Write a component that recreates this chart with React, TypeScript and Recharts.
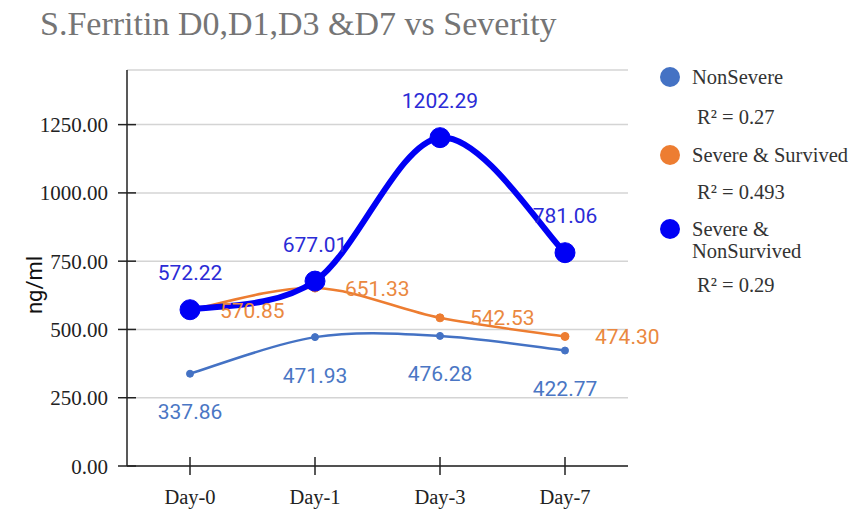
import React from 'react';
import { LineChart, Line, XAxis, YAxis, CartesianGrid, LabelList } from 'recharts';

const days = ['Day-0', 'Day-1', 'Day-3', 'Day-7'];
const nonSevere = [337.86, 471.93, 476.28, 422.77];
const severeSurvived = [570.85, 651.33, 542.53, 474.3];
const severeNonSurvived = [572.22, 677.01, 1202.29, 781.06];
const yTicks = [0, 250, 500, 750, 1000, 1250];
const seriesNames = ['NonSevere', 'Severe & Survived', 'Severe & NonSurvived'];
const rSquared = ['0.27', '0.493', '0.29'];
const title = 'S.Ferritin D0,D1,D3 &D7 vs Severity';
const yLabel = 'ng/ml';

const COLORS = ['#4472c4', '#ed7d31', '#0000f5'];
const LABEL_COLORS = ['#4a76c4', '#ea8840', '#2b2bd6'];

const data = days.map((d, i) => ({
  day: d,
  ns: nonSevere[i],
  ss: severeSurvived[i],
  snv: severeNonSurvived[i],
}));

const W = 849;
const H = 510;
const PL = 127;
const PR = 628;
const PT = 70;
const PB = 466;

const SERIF = '"Liberation Serif", "Times New Roman", serif';
const SANS = 'Roboto, "Liberation Sans", Arial, sans-serif';

// Cardinal / Catmull-Rom style smoothing curve
function smoothCurve(context: any) {
  let pts: number[][] = [];
  return {
    areaStart() {},
    areaEnd() {},
    lineStart() {
      pts = [];
    },
    lineEnd() {
      const n = pts.length;
      if (!n) return;
      context.moveTo(pts[0][0], pts[0][1]);
      if (n === 2) {
        context.lineTo(pts[1][0], pts[1][1]);
        return;
      }
      const k = 1 / 6;
      for (let i = 0; i < n - 1; i++) {
        const p0 = pts[i - 1] || pts[i];
        const p1 = pts[i];
        const p2 = pts[i + 1];
        const p3 = pts[i + 2] || pts[i + 1];
        context.bezierCurveTo(
          p1[0] + k * (p2[0] - p0[0]),
          p1[1] + k * (p2[1] - p0[1]),
          p2[0] - k * (p3[0] - p1[0]),
          p2[1] - k * (p3[1] - p1[1]),
          p2[0],
          p2[1]
        );
      }
    },
    point(x: number, y: number) {
      pts.push([+x, +y]);
    },
  };
}

const YTick = (props: any) => {
  const { y, payload } = props;
  return (
    <g>
      <line x1={PL - 9} x2={PL + 9} y1={y} y2={y} stroke="#222" strokeWidth={1.5} />
      <text x={108} y={y} dy="0.36em" textAnchor="end" fontFamily={SERIF} fontSize={21} fill="#222">
        {Number(payload.value).toFixed(2)}
      </text>
    </g>
  );
};

const XTick = (props: any) => {
  const { x, payload } = props;
  return (
    <g>
      <line x1={x} x2={x} y1={PB - 9} y2={PB + 9} stroke="#222" strokeWidth={1.5} />
      <text x={x} y={504} textAnchor="middle" fontFamily={SERIF} fontSize={20.5} fill="#222">
        {payload.value}
      </text>
    </g>
  );
};

const makeLabel = (dx: number, dy: number, anchor: string, color: string) => (p: any) => {
  const x = p.x ?? p.viewBox?.x;
  const y = p.y ?? p.viewBox?.y;
  return (
    <text
      x={x + dx}
      y={y + dy}
      dy="0.36em"
      textAnchor={anchor}
      fontFamily={SANS}
      fontSize={21}
      fill={color}
    >
      {Number(p.value).toFixed(2)}
    </text>
  );
};

export default function App() {
  const legendRows = [
    { circleY: 77, lines: [seriesNames[0]], rY: 117 },
    { circleY: 155, lines: [seriesNames[1]], rY: 192 },
    { circleY: 229, lines: ['Severe &', 'NonSurvived'], rY: 285 },
  ];
  return (
    <div style={{ position: 'absolute', left: 0, top: 0, width: W, height: H, background: '#fff', overflow: 'hidden' }}>
      <div
        style={{
          position: 'absolute',
          left: 40,
          top: 7,
          fontFamily: SERIF,
          fontSize: 34,
          lineHeight: '34px',
          color: '#757575',
          whiteSpace: 'nowrap',
        }}
      >
        {title}
      </div>
      <div
        style={{
          position: 'absolute',
          left: 34,
          top: 285,
          transform: 'translate(-50%, -50%) rotate(-90deg)',
          fontFamily: SANS,
          fontSize: 22,
          color: '#111',
          whiteSpace: 'nowrap',
        }}
      >
        {yLabel}
      </div>
      <LineChart
        width={W}
        height={H}
        data={data}
        margin={{ top: PT, right: W - PR, bottom: H - PB - 30, left: PL - 100 }}
        style={{ position: 'absolute', left: 0, top: 0 }}
      >
        <CartesianGrid horizontal vertical={false} stroke="#d4d4d4" strokeWidth={1.5} />
        <XAxis
          dataKey="day"
          height={30}
          padding={{ left: 63, right: 63 }}
          axisLine={{ stroke: '#222', strokeWidth: 1.5 }}
          tickLine={false}
          tick={<XTick />}
          interval={0}
        />
        <YAxis
          width={100}
          domain={[0, 1450]}
          ticks={yTicks}
          axisLine={{ stroke: '#222', strokeWidth: 1.5 }}
          tickLine={false}
          tick={<YTick />}
          interval={0}
        />
        <Line
          dataKey="ns"
          name={seriesNames[0]}
          type={smoothCurve as any}
          stroke={COLORS[0]}
          strokeWidth={2.5}
          dot={{ r: 3.5, fill: COLORS[0], stroke: COLORS[0], strokeWidth: 1 }}
          isAnimationActive={false}
        >
          <LabelList dataKey="ns" content={makeLabel(0, 38, 'middle', LABEL_COLORS[0])} />
        </Line>
        <Line
          dataKey="ss"
          name={seriesNames[1]}
          type={smoothCurve as any}
          stroke={COLORS[1]}
          strokeWidth={2.5}
          dot={{ r: 4, fill: COLORS[1], stroke: COLORS[1], strokeWidth: 1 }}
          isAnimationActive={false}
        >
          <LabelList dataKey="ss" content={makeLabel(30, 0, 'start', LABEL_COLORS[1])} />
        </Line>
        <Line
          dataKey="snv"
          name={seriesNames[2]}
          type={smoothCurve as any}
          stroke={COLORS[2]}
          strokeWidth={6}
          dot={{ r: 10, fill: COLORS[2], stroke: COLORS[2], strokeWidth: 1 }}
          isAnimationActive={false}
        >
          <LabelList dataKey="snv" content={makeLabel(0, -37, 'middle', LABEL_COLORS[2])} />
        </Line>
      </LineChart>
      {legendRows.map((row, i) => (
        <React.Fragment key={i}>
          <div
            style={{
              position: 'absolute',
              left: 660,
              top: row.circleY - 10,
              width: 20,
              height: 20,
              borderRadius: '50%',
              background: COLORS[i],
            }}
          />
          {row.lines.map((ln, j) => (
            <div
              key={j}
              style={{
                position: 'absolute',
                left: 692,
                top: row.circleY - 11 + j * 22,
                fontFamily: SERIF,
                fontSize: 20.5,
                lineHeight: '22px',
                color: '#333',
                whiteSpace: 'nowrap',
              }}
            >
              {ln}
            </div>
          ))}
          <div
            style={{
              position: 'absolute',
              left: 697,
              top: row.rY - 11,
              fontFamily: SERIF,
              fontSize: 20.5,
              lineHeight: '22px',
              color: '#333',
              whiteSpace: 'nowrap',
            }}
          >
            R² = {rSquared[i]}
          </div>
        </React.Fragment>
      ))}
    </div>
  );
}
